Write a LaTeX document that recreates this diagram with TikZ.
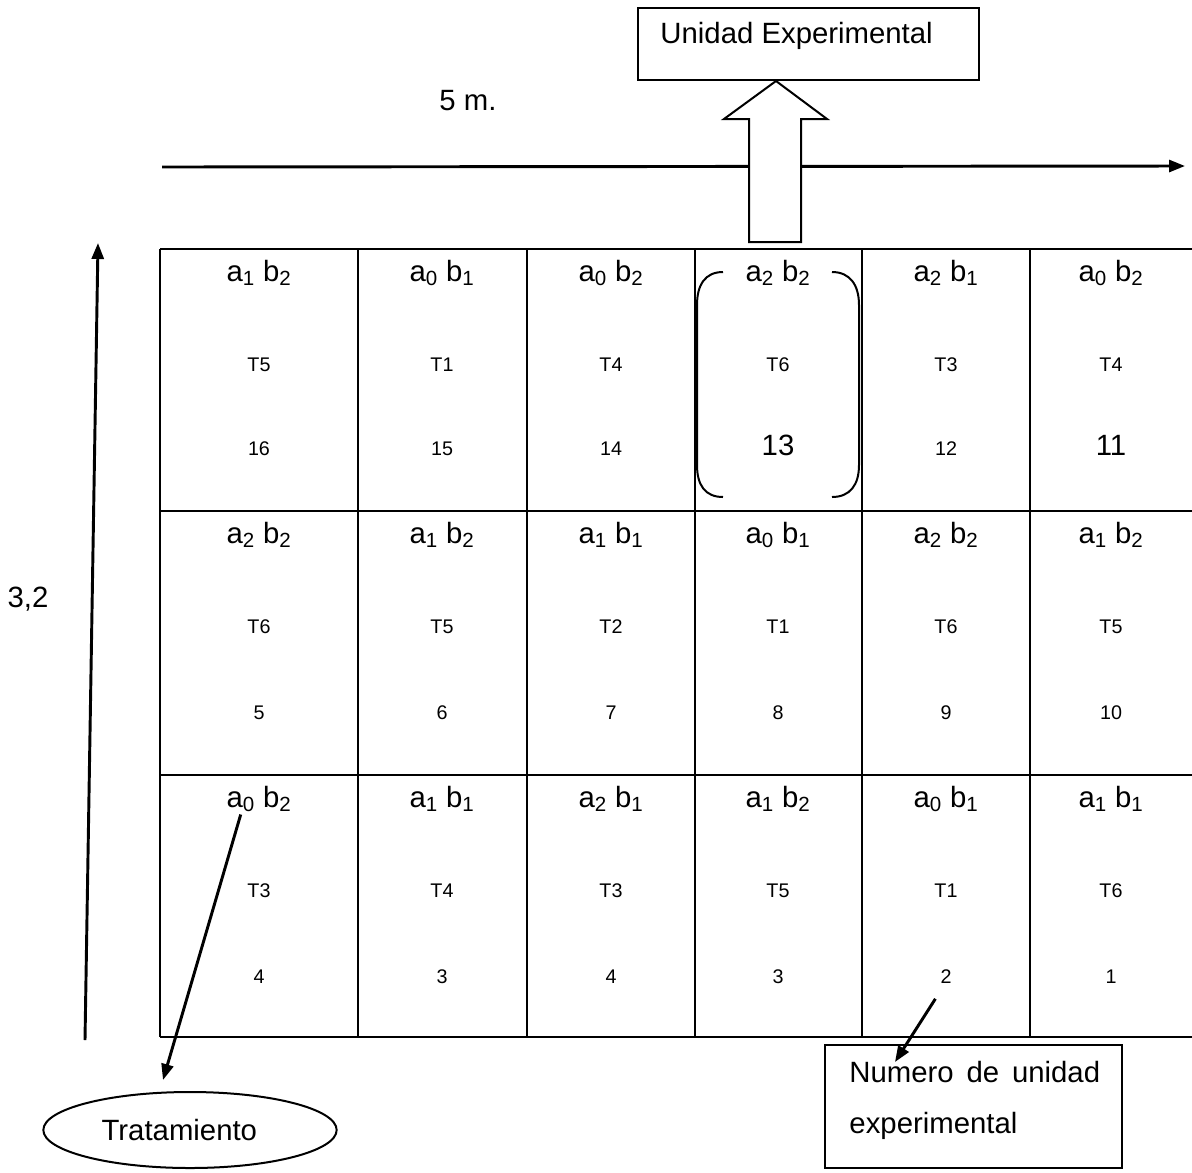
\documentclass[tikz,border=0pt]{standalone}
\usepackage{fontspec}
\setmainfont{Liberation Sans}
\usetikzlibrary{arrows.meta,shapes.geometric}

\tikzset{every picture/.style={line width=2.2pt}}
\tikzset{
  bigtxt/.style={font=\fontsize{22}{26}\selectfont, inner sep=0.75pt},
  smalltxt/.style={font=\fontsize{14.8}{17}\selectfont, inner sep=0.75pt},
  thin/.style={line width=1.5pt},
  tip/.style={-{Triangle[length=12pt,width=9pt]}}
}
\newcommand{\combo}[2]{a\textsubscript{#1} b\textsubscript{#2}}

\begin{document}
\begin{tikzpicture}[x=0.75pt,y=0.75pt,yscale=-1,xscale=1]
\useasboundingbox (0,0) rectangle (1192,1172);

%Grid lines
\foreach \gy in {249,511,775,1037}
  \draw (160,\gy) -- (1192,\gy) ;
\foreach \gx in {160,358,527,695,862,1030}
  \draw (\gx,249) -- (\gx,1037) ;

% Cells, row 1
\foreach \cx/\sa/\sb/\tr/\nr/\fs [count=\i] in {259/1/2/T5/16/14.8, 442/0/1/T1/15/14.8, 611/0/2/T4/14/14.8, 778/2/2/T6/13/22, 946/2/1/T3/12/14.8, 1111/0/2/T4/11/22}{
  \node [bigtxt, anchor=base] (ab1\i) at (\cx,281) {\combo{\sa}{\sb}};
  \node [smalltxt, anchor=base] (t1\i) at (\cx,371) {\tr};
  \node [inner sep=0.75pt, font=\fontsize{\fs}{\fs}\selectfont, anchor=base] (n1\i) at (\cx,455) {\nr};
}
% Cells, row 2
\foreach \cx/\sa/\sb/\tr/\nr [count=\i] in {259/2/2/T6/5, 442/1/2/T5/6, 611/1/1/T2/7, 778/0/1/T1/8, 946/2/2/T6/9, 1111/1/2/T5/10}{
  \node [bigtxt, anchor=base] (ab2\i) at (\cx,543) {\combo{\sa}{\sb}};
  \node [smalltxt, anchor=base] (t2\i) at (\cx,633) {\tr};
  \node [smalltxt, anchor=base] (n2\i) at (\cx,719) {\nr};
}
% Cells, row 3
\foreach \cx/\sa/\sb/\tr/\nr [count=\i] in {259/0/2/T3/4, 442/1/1/T4/3, 611/2/1/T3/4, 778/1/2/T5/3, 946/0/1/T1/2, 1111/1/1/T6/1}{
  \node [bigtxt, anchor=base] (ab3\i) at (\cx,807) {\combo{\sa}{\sb}};
  \node [smalltxt, anchor=base] (t3\i) at (\cx,897) {\tr};
  \node [smalltxt, anchor=base] (n3\i) at (\cx,983) {\nr};
}

%Brackets round cell 13
\draw [thin] (723,272) .. controls (705,272) and (697,285) .. (697,305) -- (697,465) .. controls (697,485) and (705,497) .. (723,497) ;
\draw [thin] (832,272) .. controls (850,272) and (859,285) .. (859,305) -- (859,465) .. controls (859,485) and (850,497) .. (832,497) ;

%Straight Lines (5 m.)
\coordinate (hstart) at (162,167) ;
\coordinate (hend) at (1185,166) ;
\draw [tip] (hstart) -- (hend) ;
%Straight Lines (3,2)
\coordinate (vstart) at (85,1040) ;
\coordinate (vend) at (98,243) ;
\draw [tip] (vstart) -- (vend) ;

% Text Node
\node [bigtxt, anchor=base] (len) at (468,110) {5 m.};
% Text Node
\node [bigtxt, anchor=base] (wid) at (28,607) {3,2};

%Unidad Experimental box
\node [draw, thin, anchor=north west, minimum width=256pt, minimum height=54pt] (uebox) at (637,7) {};
\node [bigtxt, anchor=base west] (uetxt) at (658,43) {Unidad Experimental};
%Block arrow
\draw [thin, fill=white] (749,242) -- (749,119) -- (724,119) -- (uebox.south -| 776,0) -- (827,119) -- (801,119) -- (801,242) -- cycle ;

%Tratamiento
\node [draw, thin, ellipse, minimum width=220pt, minimum height=57pt, bigtxt] (trat) at (190,1130) {\hspace*{-16pt}Tratamiento};
\coordinate (trattip) at (163,1080) ;
\draw [tip] ([xshift=12.5pt]ab31.south west) -- (trattip) ;

%Numero de unidad experimental
\node [draw, thin, anchor=north west, minimum width=223pt, minimum height=92pt] (nubox) at (824,1044) {};
\node [bigtxt, anchor=base west] (nu1) at (847,1082) {\makebox[188pt][s]{Numero de unidad}};
\node [bigtxt, anchor=base west] (nu2) at (847,1133) {experimental};
\coordinate (nutip) at (895,1062) ;
\draw [tip] ([xshift=-2pt,yshift=10pt]n35.south west) -- (nutip) ;

\end{tikzpicture}
\end{document}
